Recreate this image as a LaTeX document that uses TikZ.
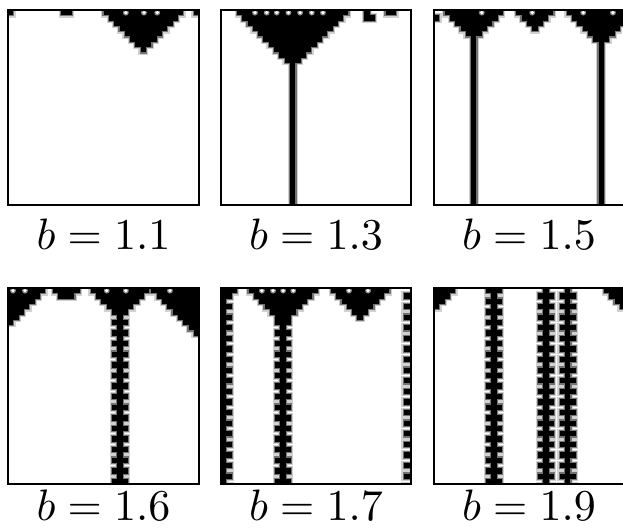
\documentclass[tikz,border=0pt]{standalone}
\newcommand\blk[4]{}
\newcommand\dotw[2]{}
\newcommand\passA{\renewcommand\blk[4]{\fill[black!18] (##1-0.45,##2-0.45) rectangle (##3+0.45,##4+0.45);}\renewcommand\dotw[2]{}}
\newcommand\passB{\renewcommand\blk[4]{\fill[black!55] (##1-0.22,##2-0.22) rectangle (##3+0.22,##4+0.22);}}
\newcommand\passC{\renewcommand\blk[4]{\fill[black] (##1,##2) rectangle (##3,##4);}}
\newcommand\passD{\renewcommand\blk[4]{}\renewcommand\dotw[2]{\fill[black!45] (##1,##2) circle (0.55); \fill[white] (##1,##2) circle (0.33);}}
% downward triangle (cell units): centre, top width, top row
\newcommand\vtri[3]{%
  \pgfmathtruncatemacro\nn{(#2-1)/2}%
  \foreach \k in {0,...,\nn}{\blk{#1-#2/2+\k}{#3+\k}{#1+#2/2-\k}{#3+\k+1}}}
% corner triangles: edge x, top width, top row
\newcommand\ltri[3]{%
  \pgfmathtruncatemacro\nn{#2-1}%
  \foreach \k in {0,...,\nn}{\blk{#1}{#3+\k}{#1+#2-\k}{#3+\k+1}}}
\newcommand\rtri[3]{%
  \pgfmathtruncatemacro\nn{#2-1}%
  \foreach \k in {0,...,\nn}{\blk{#1-#2+\k}{#3+\k}{#1}{#3+\k+1}}}
% rung line: centre, top row, bottom row, phase
\newcommand\rung[4]{%
  \blk{#1-0.5}{#2}{#1+0.5}{#3}%
  \pgfmathtruncatemacro\nr{(#3-#2-#4)/2}%
  \foreach \j in {0,...,\nr}{\blk{#1-1.5}{#2+#4+2*\j}{#1+1.5}{#2+#4+2*\j+1}}}
\newcommand\panel[5]{%
  \begin{scope}
    \clip (#1,#2) rectangle (#3,#4);
    \begin{scope}[shift={(#1,#2)},x=5.31pt,y=-5.3pt]
      \passA #5
      \passB #5
      \passC #5
      \passD #5
    \end{scope}
  \end{scope}
  \draw[frame] (#1,#2) rectangle (#3,#4);}
\begin{document}
\begin{tikzpicture}[x=1pt,y=-1pt,
  frame/.style={line width=2pt},
  lab/.style={anchor=base,inner sep=0pt,scale=4.4}]
\useasboundingbox (0,0) rectangle (623,529);
% panel b=1.1
\panel{8}{10}{199}{205}{%
  \blk{0}{0}{1}{1}%
  \blk{10}{0}{12}{1}%
  \vtri{25.5}{15}{0}%
  \blk{35}{0}{36}{1}%
  \dotw{22.2}{0.5}\dotw{25.6}{0.5}\dotw{28.1}{0.5}}
% panel b=1.3
\panel{221}{10}{411}{205}{%
  \vtri{13.5}{21}{0}%
  \blk{13}{10}{14}{38}%
  \blk{27}{0}{28}{2}\blk{27}{1}{29}{2}%
  \blk{31}{0}{33}{1}%
  \dotw{6.4}{0.5}\dotw{8.6}{0.5}\dotw{10.5}{0.5}\dotw{12.7}{0.5}\dotw{14.9}{0.5}\dotw{17.1}{0.5}\dotw{19.2}{0.5}}
% panel b=1.5
\panel{434}{10}{626}{205}{%
  \blk{0}{1}{1}{2}%
  \vtri{7.5}{11}{0}%
  \blk{7}{5}{8}{38}%
  \vtri{19}{7}{0}%
  \vtri{31.5}{13}{0}%
  \blk{31}{6}{32}{38}%
  \dotw{9.0}{0.5}\dotw{18.5}{0.5}\dotw{28.1}{0.5}\dotw{33.7}{0.5}}
% panel b=1.6
\panel{8}{288}{199}{484}{%
  \ltri{0}{7}{0}%
  \blk{8.5}{0}{13.5}{1}\blk{9.5}{1}{12.5}{2}%
  \vtri{21.1}{11}{0}%
  \rung{21.1}{5}{38}{1}%
  \rtri{36}{9}{0}%
  \dotw{0.94}{0.5}\dotw{3.2}{0.5}\dotw{18.6}{0.5}\dotw{22.2}{0.5}\dotw{30.5}{0.5}}
% panel b=1.7
\panel{221}{288}{411}{484}{%
  \blk{0}{0}{1}{38}%
  \foreach \j in {0,...,18}{\blk{0}{1+2*\j}{2}{2+2*\j}}%
  \blk{0}{0}{3}{1}%
  \vtri{11.7}{13}{0}%
  \rung{11.7}{6}{38}{0}%
  \vtri{26.2}{11}{0}%
  \foreach \j in {0,...,18}{\blk{34.4}{1+2*\j}{36}{2+2*\j}}%
  \dotw{7.7}{0.5}\dotw{9.8}{0.5}\dotw{11.7}{0.5}\dotw{13.6}{0.5}\dotw{24.1}{0.5}\dotw{27.7}{0.5}}
% panel b=1.9
\panel{434}{288}{626}{484}{%
  \ltri{0}{4}{0}%
  \rung{11.3}{0}{38}{0}%
  \rung{21.1}{0}{38}{1}%
  \rung{25.2}{0}{38}{1}%
  \rtri{36}{4}{0}}
% labels
\node[lab] (l1) at (103.5,250) {$b=1.1$};
\node[lab] (l2) at (316,250) {$b=1.3$};
\node[lab] (l3) at (529,250) {$b=1.5$};
\node[lab] (l4) at (103.5,520) {$b=1.6$};
\node[lab] (l5) at (316,520) {$b=1.7$};
\node[lab] (l6) at (529,520) {$b=1.9$};
\end{tikzpicture}
\end{document}
